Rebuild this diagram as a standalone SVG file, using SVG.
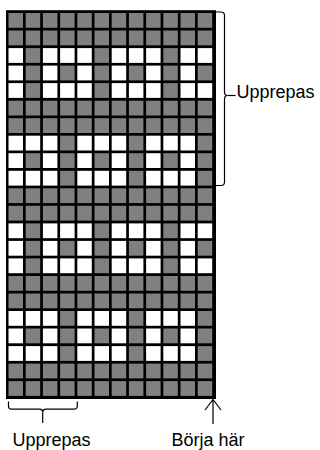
<svg xmlns="http://www.w3.org/2000/svg" xmlns:xlink="http://www.w3.org/1999/xlink" width="320" height="450" viewBox="0 0 320 450">
<style>
.g{fill:#808080}
.w{fill:#ffffff}
.ln{fill:none;stroke:#000;stroke-width:1.2}
.t{font-family:"Liberation Sans",Arial,sans-serif;font-size:18px;fill:#000}
</style>
<defs>
<g id="rG">
<rect class="g" x="8.5" y="0" width="14.5" height="14.8"/><rect class="g" x="25.7" y="0" width="14.5" height="14.8"/><rect class="g" x="42.9" y="0" width="14.5" height="14.8"/><rect class="g" x="60.1" y="0" width="14.5" height="14.8"/><rect class="g" x="77.3" y="0" width="14.5" height="14.8"/><rect class="g" x="94.5" y="0" width="14.5" height="14.8"/><rect class="g" x="111.7" y="0" width="14.5" height="14.8"/><rect class="g" x="128.9" y="0" width="14.5" height="14.8"/><rect class="g" x="146.1" y="0" width="14.5" height="14.8"/><rect class="g" x="163.3" y="0" width="14.5" height="14.8"/><rect class="g" x="180.5" y="0" width="14.5" height="14.8"/><rect class="g" x="197.7" y="0" width="14.5" height="14.8"/>
</g>
<g id="rA">
<rect class="w" x="8.5" y="0" width="14.5" height="14.8"/><rect class="g" x="25.7" y="0" width="14.5" height="14.8"/><rect class="w" x="42.9" y="0" width="14.5" height="14.8"/><rect class="w" x="60.1" y="0" width="14.5" height="14.8"/><rect class="w" x="77.3" y="0" width="14.5" height="14.8"/><rect class="g" x="94.5" y="0" width="14.5" height="14.8"/><rect class="w" x="111.7" y="0" width="14.5" height="14.8"/><rect class="w" x="128.9" y="0" width="14.5" height="14.8"/><rect class="w" x="146.1" y="0" width="14.5" height="14.8"/><rect class="g" x="163.3" y="0" width="14.5" height="14.8"/><rect class="w" x="180.5" y="0" width="14.5" height="14.8"/><rect class="w" x="197.7" y="0" width="14.5" height="14.8"/>
</g>
<g id="rB">
<rect class="w" x="8.5" y="0" width="14.5" height="14.8"/><rect class="g" x="25.7" y="0" width="14.5" height="14.8"/><rect class="w" x="42.9" y="0" width="14.5" height="14.8"/><rect class="g" x="60.1" y="0" width="14.5" height="14.8"/><rect class="w" x="77.3" y="0" width="14.5" height="14.8"/><rect class="g" x="94.5" y="0" width="14.5" height="14.8"/><rect class="w" x="111.7" y="0" width="14.5" height="14.8"/><rect class="g" x="128.9" y="0" width="14.5" height="14.8"/><rect class="w" x="146.1" y="0" width="14.5" height="14.8"/><rect class="g" x="163.3" y="0" width="14.5" height="14.8"/><rect class="w" x="180.5" y="0" width="14.5" height="14.8"/><rect class="g" x="197.7" y="0" width="14.5" height="14.8"/>
</g>
<g id="rC">
<rect class="w" x="8.5" y="0" width="14.5" height="14.8"/><rect class="w" x="25.7" y="0" width="14.5" height="14.8"/><rect class="w" x="42.9" y="0" width="14.5" height="14.8"/><rect class="g" x="60.1" y="0" width="14.5" height="14.8"/><rect class="w" x="77.3" y="0" width="14.5" height="14.8"/><rect class="w" x="94.5" y="0" width="14.5" height="14.8"/><rect class="w" x="111.7" y="0" width="14.5" height="14.8"/><rect class="g" x="128.9" y="0" width="14.5" height="14.8"/><rect class="w" x="146.1" y="0" width="14.5" height="14.8"/><rect class="w" x="163.3" y="0" width="14.5" height="14.8"/><rect class="w" x="180.5" y="0" width="14.5" height="14.8"/><rect class="g" x="197.7" y="0" width="14.5" height="14.8"/>
</g>
</defs>
<rect width="320" height="450" fill="#fff"/>
<g id="chart">
<rect x="6" y="10.2" width="210" height="388.8" fill="#000"/>
<use xlink:href="#rG" href="#rG" y="13"/>
<use xlink:href="#rG" href="#rG" y="30.5"/>
<use xlink:href="#rA" href="#rA" y="48.1"/>
<use xlink:href="#rB" href="#rB" y="65.6"/>
<use xlink:href="#rA" href="#rA" y="83.1"/>
<use xlink:href="#rG" href="#rG" y="100.7"/>
<use xlink:href="#rG" href="#rG" y="118.2"/>
<use xlink:href="#rC" href="#rC" y="135.7"/>
<use xlink:href="#rB" href="#rB" y="153.2"/>
<use xlink:href="#rC" href="#rC" y="170.8"/>
<use xlink:href="#rG" href="#rG" y="188.3"/>
<use xlink:href="#rG" href="#rG" y="205.8"/>
<use xlink:href="#rA" href="#rA" y="223.4"/>
<use xlink:href="#rB" href="#rB" y="240.9"/>
<use xlink:href="#rA" href="#rA" y="258.4"/>
<use xlink:href="#rG" href="#rG" y="276"/>
<use xlink:href="#rG" href="#rG" y="293.5"/>
<use xlink:href="#rC" href="#rC" y="311"/>
<use xlink:href="#rB" href="#rB" y="328.5"/>
<use xlink:href="#rC" href="#rC" y="346.1"/>
<use xlink:href="#rG" href="#rG" y="363.6"/>
<use xlink:href="#rG" href="#rG" y="381.1"/>
</g>
<g id="connectors">
<path class="ln" d="M214,12 H221 Q224.5,12 224.5,15.5 V92 Q224.5,95.5 227.5,95.5 Q224.5,95.5 224.5,99 V182 Q224.5,185.5 221,185.5 H214"/>
<path class="ln" d="M227.5,95.5 H235.5"/>
<path class="ln" d="M8.5,401.5 V406 Q8.5,409.2 11.5,409.2 H39.5 Q42.7,409.2 42.7,412.5 Q42.7,409.2 46,409.2 H74 Q77.3,409.2 77.3,406 V401.5"/>
<path class="ln" d="M42.7,412.5 V423"/>
<path class="ln" d="M213,400 V424 M205,410 L213,399.5 L221,410"/>
</g>
<g id="label-right"><text class="t" x="236.5" y="97.5">Upprepas</text></g>
<g id="label-bottom-left"><text class="t" x="12.5" y="445.5">Upprepas</text></g>
<g id="label-bottom-right"><text class="t" x="171.5" y="445.5">Börja här</text></g>
</svg>
